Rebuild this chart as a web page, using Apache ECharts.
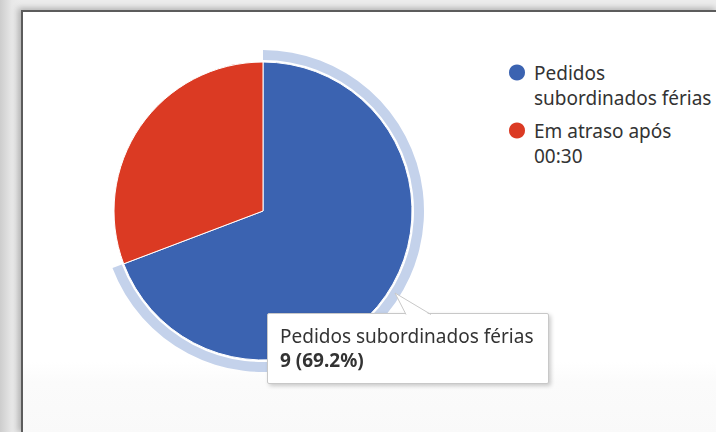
<!DOCTYPE html>
<html>
<head>
<meta charset="utf-8">
<script src="https://cdn.jsdelivr.net/npm/echarts@6/dist/echarts.min.js"></script>
<style>
  html, body { margin: 0; padding: 0; width: 716px; height: 432px; overflow: hidden; }
  body { background: linear-gradient(90deg, #cdcdcd 0, #e8e8e8 12px, #ececec 21px); }
  #panel {
    position: absolute; left: 21px; top: 10px; width: 695px; height: 422px;
    background: linear-gradient(180deg, #fff 0, #fff 350px, #fbfbfb 370px, #f9f9f9 100%);
    border-left: 2px solid #5c5c5c; border-top: 2px solid #5c5c5c;
    box-shadow: -3px -2px 6px rgba(0, 0, 0, .25);
  }
  #main { position: absolute; left: 0; top: 0; width: 716px; height: 432px; }
</style>
</head>
<body>
<div id="panel"></div>
<div id="main"></div>
<script>
var categories = ['Pedidos subordinados férias', 'Em atraso após 00:30'];
var legendLabels = ['Pedidos\nsubordinados férias', 'Em atraso após\n00:30'];
var values = [9, 4];
var colors = ['#3b63b1', '#db3a23'];
var haloColor = '#c4d2eb';
var font = 'Noto Sans';

var pieData = categories.map(function (name, i) {
  return { name: name, value: values[i], itemStyle: { color: colors[i] } };
});
// halo ring only around the hovered (first) slice
var haloData = categories.map(function (name, i) {
  return { name: name, value: values[i], itemStyle: { color: i === 0 ? haloColor : 'rgba(0,0,0,0)' } };
});

var chart = echarts.init(document.getElementById('main'), null, { renderer: 'svg' });
chart.setOption({
  animation: false,
  legend: {
    orient: 'vertical',
    left: 507,
    top: 35,
    padding: 0,
    itemWidth: 18,
    itemHeight: 18,
    itemGap: -17,
    icon: 'circle',
    selectedMode: false,
    data: categories,
    // leading blank line keeps the first text line level with the icon
    formatter: function (name) { return '\n' + legendLabels[categories.indexOf(name)]; },
    textStyle: { fontFamily: font, fontSize: 19, color: '#333', lineHeight: 25, padding: [0, 0, 0, 3] }
  },
  tooltip: {
    trigger: 'item',
    triggerOn: 'none',
    alwaysShowContent: true,
    transitionDuration: 0,
    position: [267, 313],
    backgroundColor: '#fff',
    borderColor: '#c8c8c8',
    borderWidth: 1,
    padding: [10, 15, 11, 12],
    textStyle: { fontFamily: font, fontSize: 19, color: '#333', lineHeight: 24 },
    extraCssText: 'border-radius:2px;box-shadow:2px 2px 4px rgba(0,0,0,.2);overflow:visible;',
    formatter: function (p) {
      var arrow = '<svg style="position:absolute;left:127px;top:-21px;overflow:visible" width="40" height="24">' +
        '<polygon points="0,0 11,22.5 36,22.5" fill="#fff"/>' +
        '<polyline points="11,21.5 0,0 36,21.5" fill="none" stroke="#c8c8c8"/></svg>';
      return arrow + p.name + '<br/><b>' + p.value + ' (' + p.percent + '%)</b>';
    }
  },
  series: [
    {
      type: 'pie',
      center: [263, 211],
      radius: [0, 149],
      percentPrecision: 1,
      label: { show: false },
      labelLine: { show: false },
      itemStyle: { borderColor: '#fff', borderWidth: 1 },
      emphasis: { scale: false },
      data: pieData
    },
    {
      type: 'pie',
      center: [263, 211],
      radius: [151, 161],
      silent: true,
      tooltip: { show: false },
      label: { show: false },
      labelLine: { show: false },
      data: haloData
    }
  ]
});
chart.dispatchAction({ type: 'showTip', seriesIndex: 0, dataIndex: 0 });
</script>
</body>
</html>
